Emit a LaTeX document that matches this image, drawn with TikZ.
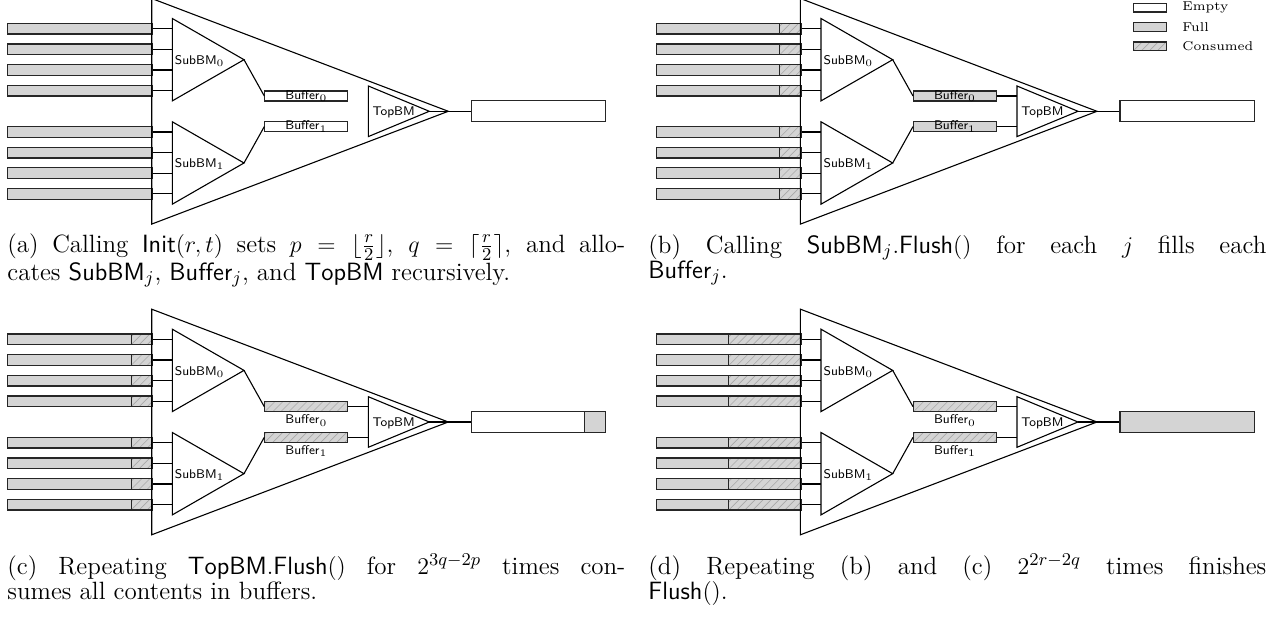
\documentclass[tikz,border=0pt]{standalone}
\usepackage{fontspec}
\definecolor{barfill}{gray}{0.83}
\definecolor{hatch}{gray}{0.66}
\tikzset{
  bar/.style={draw=black!85, line width=0.55pt, inner sep=0pt, anchor=west},
  emptybar/.style={bar, fill=white},
  fullbar/.style={bar, fill=barfill},
  usedbar/.style={bar, fill=barfill, path picture={
      \foreach \k in {-3,...,12}
        \draw[hatch, line width=0.3pt] ([xshift=\k*4pt]path picture bounding box.south west) -- ++(9pt,9pt);}},
  tri/.style={draw, line width=0.55pt, line join=miter},
  wire/.style={draw, line width=0.55pt},
  lab/.style={font=\sffamily\fontsize{6.3}{7}\selectfont, inner sep=0pt},
  buflabin/.style={label={[lab]center:#1}},
  buflabout/.style={label={[lab,label distance=1.2pt]below:#1}},
  leg/.style={font=\fontsize{6.4}{7.5}\selectfont, inner sep=0pt, anchor=west},
  captext/.style={text width=309pt, align=justify, inner sep=0pt, anchor=north west, font=\fontsize{12.5}{12.5}\selectfont},
}
% #1 prefix, #2 x where consumed part starts
\newcommand\inbars[2]{%
  \foreach \i/\y in {1/28.7,2/49.35,3/70,4/90.65,5/132,6/152.65,7/173.3,8/193.95}{
    \node[fullbar, minimum width={(#2-7.3)*0.5pt}, minimum height=5.35pt] (#1f\i) at (7.3,\y) {};
    \node[usedbar, minimum width={(151.7-#2)*0.5pt}, minimum height=5.35pt] (#1in\i) at (#2,\y) {};
    \coordinate (#1p\i) at (172.3,\y);
    \draw[wire] (#1in\i.east) -- (#1p\i);
  }}
% #1 prefix, #2 buffer style, #3 label style
\newcommand\buffers[3]{%
  \node[#2, minimum width=41.5pt, minimum height=5pt, #3=Buffer$_0$] (#1b0) at (264.3,96) {};
  \node[#2, minimum width=41.5pt, minimum height=5pt, #3=Buffer$_1$] (#1b1) at (264.3,126.6) {};
}
\newcommand\bufwires[1]{%
  \coordinate (#1t0) at (368.3,96);
  \coordinate (#1t1) at (368.3,126.6);
  \draw[wire] (#1b0.east) -- (#1t0);
  \draw[wire] (#1b1.east) -- (#1t1);
}
\newcommand\core[1]{%
  \draw[tri] (151.7,-1.5) -- (448.3,111.3) coordinate (#1big) -- (151.7,224.1) -- cycle;
  \draw[tri] (172.3,18.5) -- (244,59.7) coordinate (#1sa0) -- (172.3,100.9) -- cycle;
  \draw[tri] (172.3,121.8) -- (244,163) coordinate (#1sa1) -- (172.3,204.2) -- cycle;
  \draw[tri] (368.3,86) -- (429.3,111.3) coordinate (#1ta) -- (368.3,136.6) -- cycle;
  \node[lab] (#1l0) at (199.7,61) {SubBM$_0$};
  \node[lab] (#1l1) at (199.7,164.3) {SubBM$_1$};
  \node[lab] (#1lt) at (393.7,112.5) {TopBM};
  \draw[wire] (#1sa0) -- (#1b0.west);
  \draw[wire] (#1sa1) -- (#1b1.west);
  \draw[wire] (#1ta) -- (#1big) -- (#1out.west);
}
\begin{document}
\begin{tikzpicture}[x=0.5pt,y=-0.5pt]
\useasboundingbox (0,0) rectangle (1266,619);
% ---------- (a)
\begin{scope}
  \inbars{a}{151.7}
  \buffers{a}{emptybar}{buflabin}
  \node[emptybar, minimum width=67.15pt, minimum height=10.35pt] (aout) at (470.7,111.3) {};
  \core{a}
\end{scope}
% ---------- (b)
\begin{scope}[shift={(648.7,0)}]
  \inbars{b}{130.6}
  \buffers{b}{fullbar}{buflabin}
  \bufwires{b}
  \node[emptybar, minimum width=67.15pt, minimum height=10.35pt] (bout) at (470.7,111.3) {};
  \core{b}
\end{scope}
% ---------- (c)
\begin{scope}[shift={(0,310.7)}]
  \inbars{c}{130.6}
  \buffers{c}{usedbar}{buflabout}
  \bufwires{c}
  \node[emptybar, minimum width=56.8pt, minimum height=10.35pt] (cout) at (470.7,111.3) {};
  \node[fullbar, minimum width=10.35pt, minimum height=10.35pt] (coutf) at (584.3,111.3) {};
  \core{c}
\end{scope}
% ---------- (d)
\begin{scope}[shift={(648.7,310.7)}]
  \inbars{d}{79.6}
  \buffers{d}{usedbar}{buflabout}
  \bufwires{d}
  \node[fullbar, minimum width=67.15pt, minimum height=10.35pt] (dout) at (470.7,111.3) {};
  \core{d}
\end{scope}
% ---------- legend
\node[emptybar, minimum width=16.5pt, minimum height=4.3pt] (legE) at (1133,7.7) {};
\node[fullbar, minimum width=16.5pt, minimum height=4.3pt] (legF) at (1133,27) {};
\node[usedbar, minimum width=16.5pt, minimum height=4.3pt] (legC) at (1133,46.3) {};
\node[leg] (legEt) at (1182,7.7) {Empty};
\node[leg] (legFt) at (1182,27) {Full};
\node[leg] (legCt) at (1182,46.3) {Consumed};
% ---------- captions
\node[captext] (capa) at (7,233) {(a) Calling $\mathsf{Init}(r,t)$ sets $p=\lfloor\frac{r}{2}\rfloor$, $q=\lceil\frac{r}{2}\rceil$, and allo-\linebreak cates $\mathsf{SubBM}_j$, $\mathsf{Buffer}_j$, and $\mathsf{TopBM}$ recursively.};
\node[captext] (capb) at (648,234) {(b) Calling $\mathsf{SubBM}_j.\mathsf{Flush}()$ for each $j$ fills each\linebreak $\mathsf{Buffer}_j$.};
\node[captext] (capc) at (7,554) {(c) Repeating $\mathsf{TopBM}.\mathsf{Flush}()$ for $2^{3q-2p}$ times con-\linebreak sumes all contents in buffers.};
\node[captext] (capd) at (648,554) {(d) Repeating (b) and (c) $2^{2r-2q}$ times finishes\linebreak $\mathsf{Flush}()$.};
\end{tikzpicture}
\end{document}
